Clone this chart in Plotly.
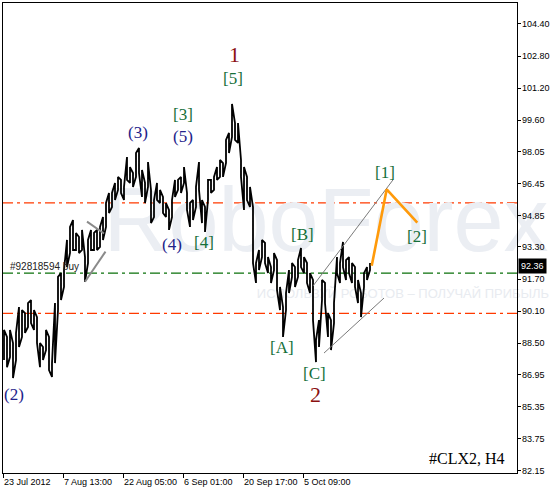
import plotly.graph_objects as go

# ---------------- data ----------------
bar_index = list(range(1, 370, 3))  # sampled H4 bars (one every 3 bars)

highs = [
    89.17, 88.82, 89.17, 88.52, 89.02, 90.31, 90.16, 90.01, 90.51, 90.66,
    90.16, 89.81, 88.52, 88.32, 89.17, 88.82, 87.52, 90.51, 91.81, 92.00,
    92.15, 93.65, 94.30, 94.64, 94.00, 93.80, 94.15, 92.80, 93.65, 94.15,
    94.00, 94.15, 94.30, 94.79, 95.49, 95.99, 95.99, 96.49, 96.79, 96.64,
    96.29, 97.78, 97.28, 96.98, 97.98, 98.23, 97.13, 96.49, 97.53, 96.14,
    95.64, 96.49, 96.14, 95.79, 95.49, 95.14, 95.64, 96.64, 96.64, 96.79,
    97.28, 95.99, 95.49, 95.64, 96.29, 97.53, 95.64, 95.29, 96.64, 96.64,
    96.79, 97.28, 97.63, 97.48, 98.63, 98.98, 100.42, 99.47, 99.47, 97.63,
    97.28, 96.79, 96.29, 95.29, 92.50, 93.15, 93.65, 93.50, 92.80, 92.30,
    93.00, 92.65, 91.31, 90.31, 91.01, 92.15, 92.50, 92.30, 92.65, 93.25,
    92.80, 92.50, 92.00, 91.66, 88.67, 89.66, 91.66, 91.51, 90.01, 89.66,
    90.51, 92.80, 92.50, 93.55, 92.65, 92.80, 92.50, 92.30, 91.66, 91.01,
    92.00, 92.30, 92.50,
]
lows = [
    87.67, 87.32, 87.82, 86.78, 87.67, 88.32, 88.82, 89.02, 89.32, 89.51,
    89.17, 88.52, 87.32, 87.67, 88.17, 87.17, 86.83, 87.52, 90.16, 90.66,
    91.31, 92.30, 93.00, 93.15, 93.15, 93.00, 93.15, 91.56, 92.50, 93.15,
    93.15, 93.15, 93.30, 93.65, 94.30, 94.99, 95.29, 95.64, 96.14, 95.99,
    95.64, 96.64, 96.49, 96.29, 96.79, 96.98, 95.79, 95.49, 96.29, 94.49,
    94.79, 95.64, 95.49, 94.99, 94.79, 94.15, 94.79, 95.79, 96.14, 95.99,
    96.49, 95.14, 94.30, 94.64, 95.29, 96.14, 94.49, 94.05, 95.64, 95.99,
    96.14, 96.64, 96.79, 96.79, 97.48, 97.98, 98.78, 98.63, 98.48, 96.79,
    95.14, 95.64, 95.29, 92.50, 91.51, 92.15, 92.80, 92.50, 92.00, 91.51,
    92.15, 91.16, 90.16, 88.82, 90.16, 91.01, 91.81, 91.31, 91.81, 92.30,
    92.00, 91.51, 91.01, 89.66, 87.57, 88.32, 90.66, 90.51, 88.82, 88.17,
    89.51, 92.00, 91.51, 92.30, 91.66, 92.00, 91.51, 91.31, 90.51, 89.81,
    91.31, 91.66, 92.15,
]
last_price = 92.36

x_tick_pos = [0, 60, 120, 180, 240, 300]
x_tick_labels = ["23 Jul 2012", "7 Aug 13:00", "22 Aug 05:00",
                 "6 Sep 01:00", "20 Sep 17:00", "5 Oct 09:00"]
price_ticks = [104.40, 102.80, 101.20, 99.60, 98.05, 96.45, 94.85, 93.30,
               91.70, 90.10, 88.50, 86.95, 85.35, 83.75, 82.15]

orange_levels = [95.5, 90.0]
green_level = 92.0
order_label = "#92818594 buy"

forecast_x = [368.7, 383.7, 414.3]
forecast_y = [92.36, 96.17, 94.51]

channel_upper_x, channel_upper_y = [310, 390], [91.36, 96.64]
channel_lower_x, channel_lower_y = [321, 381], [88.02, 90.76]
tri_upper_x, tri_upper_y = [84, 101], [94.56, 93.97]
tri_lower_x, tri_lower_y = [82, 102.5], [91.57, 93.07]

# (text, bar position, price, degree)
wave_labels = [
    ("1", 231, 102.86, "major"),
    ("[5]", 230, 101.67, "inter"),
    ("[3]", 180, 99.92, "inter"),
    ("(5)", 180, 98.78, "minor"),
    ("(3)", 135, 98.98, "minor"),
    ("(4)", 169, 93.40, "minor"),
    ("[4]", 201, 93.50, "inter"),
    ("(2)", 11, 85.98, "minor"),
    ("[A]", 279, 88.32, "inter"),
    ("[B]", 299, 93.90, "inter"),
    ("[C]", 311, 87.02, "inter"),
    ("2", 312, 85.98, "major"),
    ("[1]", 382, 97.03, "inter"),
    ("[2]", 414, 93.80, "inter"),
]

# ---------------- figure ----------------
fig = go.Figure()

# watermark (under everything)
fig.add_trace(go.Scatter(
    x=[323], y=[94.2], mode="text", text=["RoboForex"],
    textfont=dict(family="Liberation Sans", size=90, color="#ebeef3"),
    hoverinfo="skip", showlegend=False, cliponaxis=False))
fig.add_trace(go.Scatter(
    x=[400], y=[90.91], mode="text",
    text=["ИСПОЛЬЗУЙ РОБОТОВ – ПОЛУЧАЙ ПРИБЫЛЬ"],
    textfont=dict(family="Liberation Sans", size=13, color="#e8ebf0"),
    hoverinfo="skip", showlegend=False, cliponaxis=False))

# price bars drawn as a continuous zig-zag of high-low ranges
px_, py_ = [], []
for i, (xb, hi, lo) in enumerate(zip(bar_index, highs, lows)):
    px_ += [xb, xb]
    py_ += [lo, hi] if i % 2 == 0 else [hi, lo]
fig.add_trace(go.Scatter(x=px_, y=py_, mode="lines",
                         line=dict(color="black", width=1.8),
                         hoverinfo="skip", showlegend=False))

# trend lines
for xs, ys, w, c in [(channel_upper_x, channel_upper_y, 1, "#7a7a7a"),
                     (channel_lower_x, channel_lower_y, 1, "#7a7a7a"),
                     (tri_upper_x, tri_upper_y, 2, "#8a8a8a"),
                     (tri_lower_x, tri_lower_y, 2, "#8a8a8a")]:
    fig.add_trace(go.Scatter(x=xs, y=ys, mode="lines",
                             line=dict(color=c, width=w),
                             hoverinfo="skip", showlegend=False))

# forecast path
fig.add_trace(go.Scatter(x=forecast_x, y=forecast_y, mode="lines",
                         line=dict(color="#ff9a0a", width=2.6),
                         hoverinfo="skip", showlegend=False))

# horizontal levels
dash = "10px,4px,3px,4px"
for lv in orange_levels:
    fig.add_shape(type="line", xref="paper", x0=0, x1=1, y0=lv, y1=lv,
                  line=dict(color="#ff3a00", width=1.3, dash=dash), layer="below")
fig.add_shape(type="line", xref="paper", x0=0, x1=1, y0=green_level, y1=green_level,
              line=dict(color="#0a700a", width=1.3, dash=dash), layer="below")

fig.add_annotation(x=5, y=green_level, text=order_label, showarrow=False,
                   xanchor="left", yanchor="bottom", yshift=-1,
                   font=dict(family="Liberation Sans", size=10, color="#222222"))

colors = {"major": "#8b1010", "inter": "#16703a", "minor": "#22228a"}
sizes = {"major": 22, "inter": 17, "minor": 17}
for txt, xb, yv, deg in wave_labels:
    fig.add_annotation(x=xb, y=yv, text=txt, showarrow=False,
                       xanchor="center", yanchor="middle",
                       font=dict(family="Liberation Serif", size=sizes[deg],
                                 color=colors[deg]))

fig.add_annotation(xref="paper", yref="paper", x=0.9805, y=0.03,
                   text="#CLX2, H4", showarrow=False,
                   xanchor="right", yanchor="middle",
                   font=dict(family="Liberation Serif", size=16, color="black"))

# right price scale labels
for v in price_ticks:
    fig.add_annotation(xref="paper", x=1, y=v, text=f"{v:.2f}", showarrow=False,
                       xanchor="left", yanchor="middle", xshift=3,
                       font=dict(family="Liberation Sans", size=9, color="black"))

fig.add_annotation(xref="paper", x=1, y=last_price, text="92.36", showarrow=False,
                   xanchor="left", yanchor="middle", xshift=1,
                   bgcolor="black", borderpad=2,
                   font=dict(family="Liberation Sans", size=9, color="white"))

fig.update_layout(
    width=556, height=492,
    margin=dict(l=3, r=39, t=3, b=19),
    paper_bgcolor="white", plot_bgcolor="white",
    showlegend=False,
    xaxis=dict(range=[0, 514], tickvals=x_tick_pos, ticktext=x_tick_labels,
               ticks="outside", ticklen=4, tickcolor="black", tickangle=0,
               ticklabelposition="outside right", automargin=False,
               tickfont=dict(family="Liberation Sans", size=9, color="black"),
               showgrid=False, zeroline=False, showline=True, mirror=True,
               linecolor="black", linewidth=1),
    yaxis=dict(range=[82.05, 105.445], side="right", tickvals=price_ticks,
               showticklabels=False, automargin=False,
               ticks="outside", ticklen=3, tickcolor="black",
               showgrid=False, zeroline=False, showline=True, mirror=True,
               linecolor="black", linewidth=1),
)

fig.write_html("out.html", config={"displayModeBar": False},
               post_script="document.body.style.margin='0';"
                           "document.body.style.overflow='hidden';")
